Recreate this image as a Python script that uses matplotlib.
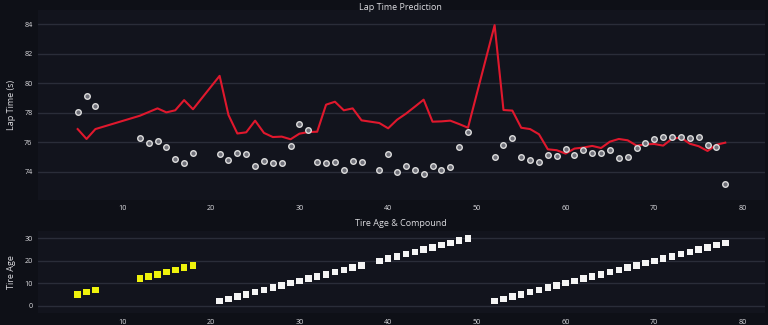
import matplotlib.pyplot as plt

plt.rcParams['font.family'] = ['Open Sans', 'DejaVu Sans']

# Data
laps = [5, 6, 7, 12, 13, 14, 15, 16, 17, 18,
        21, 22, 23, 24, 25, 26, 27, 28, 29, 30, 31, 32, 33, 34, 35, 36, 37,
        39, 40, 41, 42, 43, 44, 45, 46, 47, 48, 49,
        52, 53, 54, 55, 56, 57, 58, 59, 60, 61, 62, 63, 64, 65, 66, 67, 68,
        69, 70, 71, 72, 73, 74, 75, 76, 77, 78]

actual_time = [78.03, 79.16, 78.46, 76.30, 75.98, 76.10, 75.67, 74.90, 74.63, 75.26,
               75.24, 74.83, 75.30, 75.20, 74.38, 74.72, 74.60, 74.60, 75.78, 77.26,
               76.82, 74.70, 74.63, 74.68, 74.16, 74.77, 74.66,
               74.11, 75.22, 74.00, 74.43, 74.16, 73.86, 74.38, 74.16, 74.36, 75.69, 76.68,
               75.03, 75.84, 76.32, 74.99, 74.81, 74.66, 75.15, 75.10, 75.58, 75.17,
               75.49, 75.28, 75.28, 75.47, 74.96, 75.01, 75.60, 75.98, 76.23, 76.34,
               76.37, 76.37, 76.27, 76.38, 75.82, 75.69, 73.21]

predicted_time = [76.90, 76.23, 76.90, 77.80, 78.05, 78.30, 78.03, 78.17, 78.86, 78.24,
                  80.50, 77.85, 76.60, 76.68, 77.47, 76.64, 76.36, 76.39, 76.21, 76.59,
                  76.70, 76.72, 78.55, 78.75, 78.17, 78.30, 77.49,
                  77.31, 76.95, 77.53, 77.94, 78.41, 78.89, 77.40, 77.42, 77.47, 77.24, 76.99,
                  83.93, 78.19, 78.15, 76.99, 76.90, 76.55, 75.53, 75.47, 75.24, 75.58,
                  75.65, 75.76, 75.62, 76.05, 76.23, 76.14, 75.78, 75.87, 75.89, 75.78,
                  76.25, 76.32, 75.91, 75.74, 75.42, 75.84, 75.98]

tire_age = [5, 6, 7, 12, 13, 14, 15, 16, 17, 18,
            2, 3, 4, 5, 6, 7, 8, 9, 10, 11, 12, 13, 14, 15, 16, 17, 18,
            20, 21, 22, 23, 24, 25, 26, 27, 28, 29, 30,
            2, 3, 4, 5, 6, 7, 8, 9, 10, 11, 12, 13, 14, 15, 16, 17, 18,
            19, 20, 21, 22, 23, 24, 25, 26, 27, 28]

compound = ['SOFT'] * 10 + ['HARD'] * 55
compound_colors = {'SOFT': '#eef20c', 'HARD': '#f4f4f4'}

bg = '#0e1017'
panel = '#12141d'
grid = '#2a2d39'
text = '#dcdce0'

fig = plt.figure(figsize=(7.68, 3.25), dpi=100, facecolor=bg)
ax1 = fig.add_axes([0.0495, 0.385, 0.9466, 0.584])
ax2 = fig.add_axes([0.0495, 0.037, 0.9466, 0.252])

for ax in (ax1, ax2):
    ax.set_facecolor(panel)
    for s in ax.spines.values():
        s.set_visible(False)
    ax.grid(axis='y', color=grid, linewidth=1)
    ax.set_axisbelow(True)
    ax.tick_params(colors=text, labelsize=5.2, length=0, pad=4)
    ax.set_xlim(0.53, 82.48)
    ax.set_xticks([10, 20, 30, 40, 50, 60, 70, 80])

# Top: lap times
ax1.plot(laps, predicted_time, color='#e0182d', linewidth=1.5, zorder=3)
ax1.scatter(laps, actual_time, s=16, facecolor='#6f7079', edgecolor='#dcdcdc',
            linewidth=1.0, zorder=4)
ax1.set_ylim(72.11, 84.95)
ax1.set_yticks([74, 76, 78, 80, 82, 84])
ax1.set_ylabel('Lap Time (s)', color=text, fontsize=6.5, labelpad=6)

# Bottom: tire age by compound
colors = [compound_colors[c] for c in compound]
ax2.scatter(laps, tire_age, s=22, marker='s', c=colors, linewidth=0, zorder=3)
ax2.set_ylim(-3.3, 33.3)
ax2.set_yticks([0, 10, 20, 30])
ax2.set_ylabel('Tire Age', color=text, fontsize=6.5, labelpad=6)

fig.text(0.522, 1 - 8 / 325, 'Lap Time Prediction', color=text, fontsize=6.5,
         ha='center', va='center')
fig.text(0.522, 1 - 224 / 325, 'Tire Age & Compound', color=text, fontsize=6.5,
         ha='center', va='center')

fig.savefig('out.png', dpi=100, facecolor=bg)
